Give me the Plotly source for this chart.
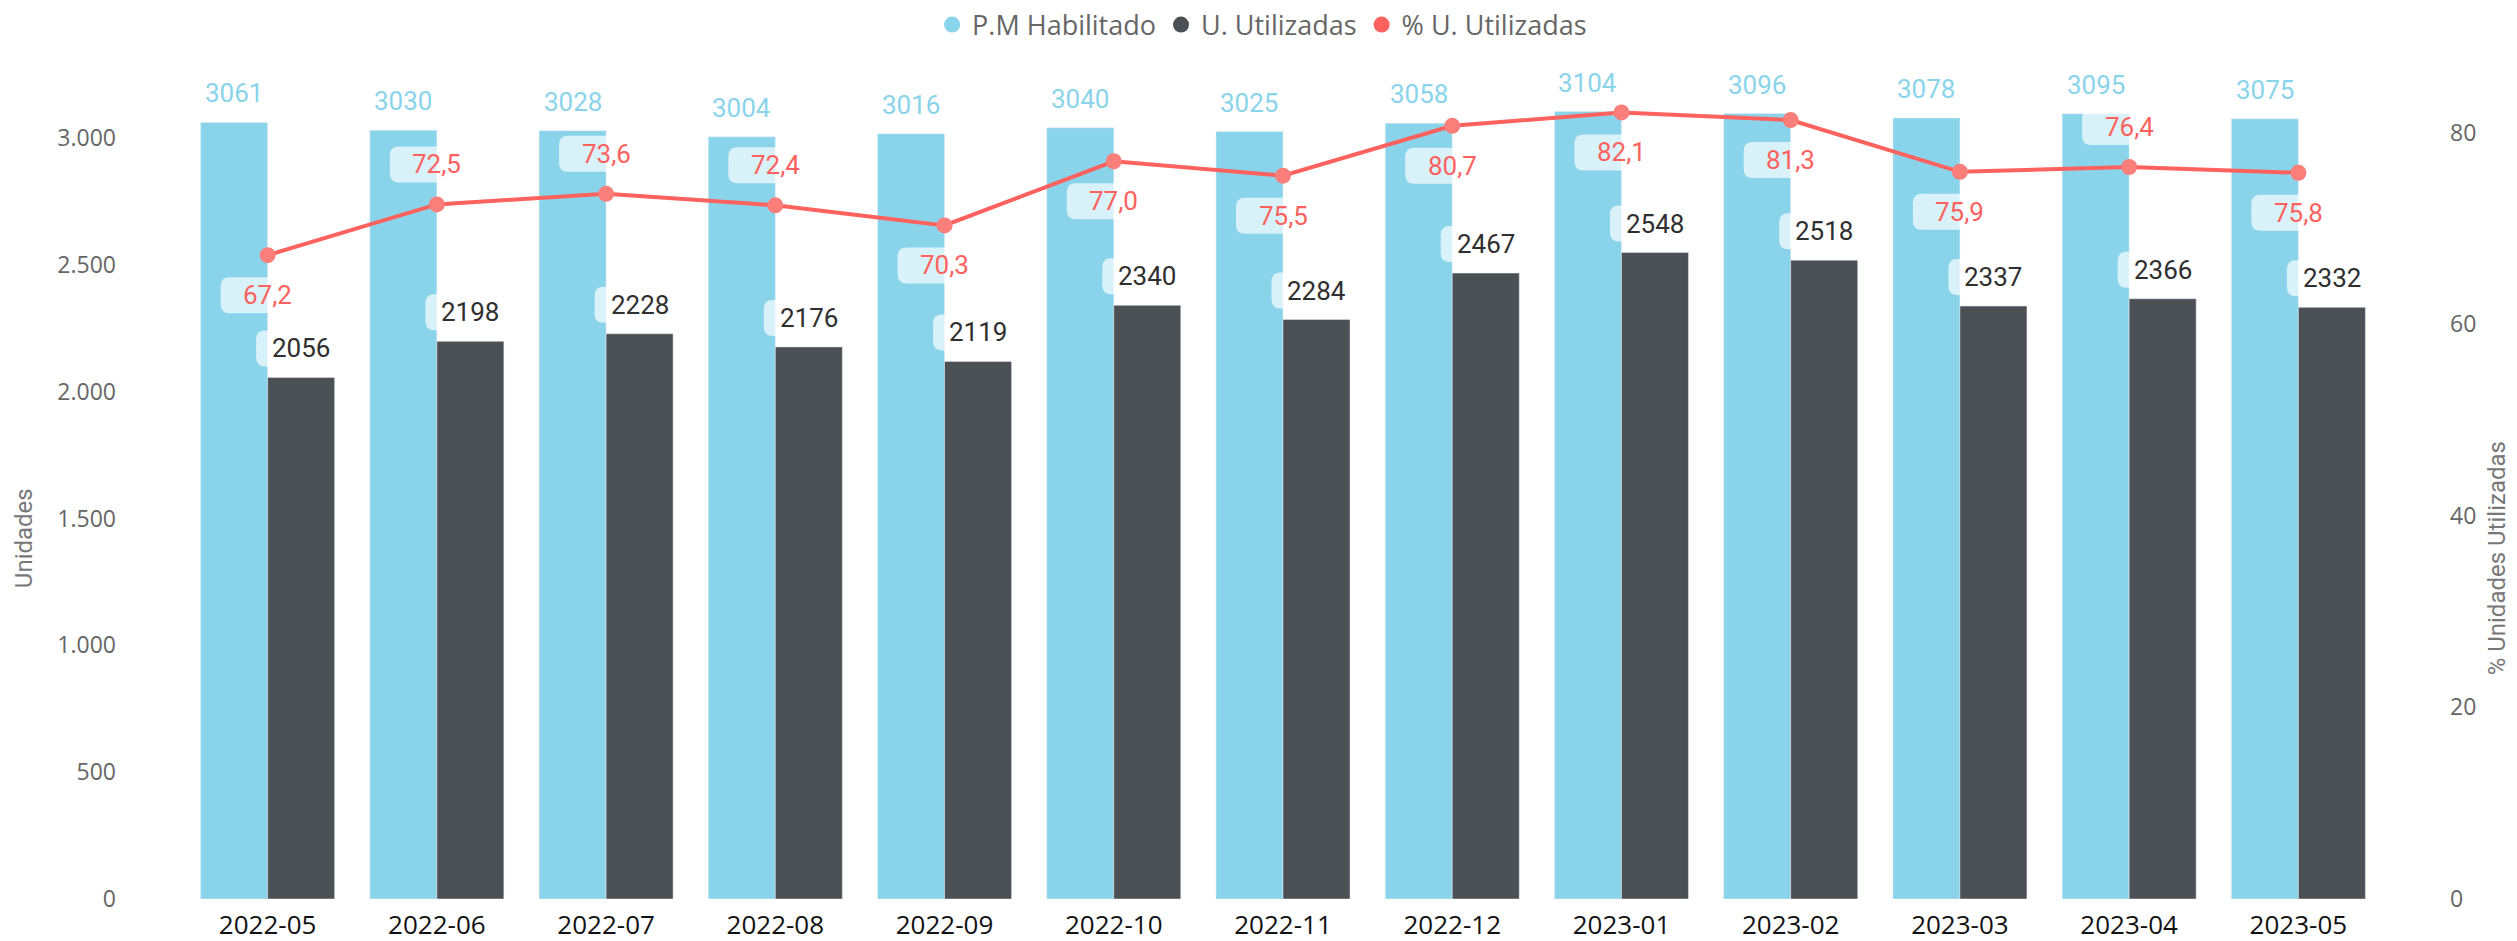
import plotly.graph_objects as go

categories = ["2022-05", "2022-06", "2022-07", "2022-08", "2022-09", "2022-10", "2022-11",
              "2022-12", "2023-01", "2023-02", "2023-03", "2023-04", "2023-05"]
pm_habilitado = [3061, 3030, 3028, 3004, 3016, 3040, 3025, 3058, 3104, 3096, 3078, 3095, 3075]
u_utilizadas = [2056, 2198, 2228, 2176, 2119, 2340, 2284, 2467, 2548, 2518, 2337, 2366, 2332]
pct_utilizadas = [67.2, 72.5, 73.6, 72.4, 70.3, 77.0, 75.5, 80.7, 82.1, 81.3, 75.9, 76.4, 75.8]
# label above (+1) or below (-1) the line point, as in the reference
pct_label_side = [-1, 1, 1, 1, -1, -1, -1, -1, -1, -1, -1, 1, -1]
left_ticks = [0, 500, 1000, 1500, 2000, 2500, 3000]
right_ticks = [0, 20, 40, 60, 80]

C_LIGHT = "#8AD4EB"
C_DARK = "#4A5053"
C_RED = "#FD625E"
C_MARK = "#FA7E7A"
LABEL_FONT = "Roboto, DejaVu Sans, sans-serif"
UI_FONT = "Open Sans, Noto Sans, sans-serif"
TITLE_FONT = "Roboto, sans-serif"

BARGAP = 0.208
HALF = (1 - BARGAP) / 4  # offset of each bar centre from category centre

fig = go.Figure()
fig.add_trace(go.Bar(x=categories, y=pm_habilitado, name="P.M Habilitado",
                     marker_color=C_LIGHT, showlegend=False, offsetgroup="a"))
fig.add_trace(go.Bar(x=categories, y=u_utilizadas, name="U. Utilizadas",
                     marker_color=C_DARK, showlegend=False, offsetgroup="b"))
fig.add_trace(go.Scatter(x=categories, y=pct_utilizadas, name="% U. Utilizadas", yaxis="y2",
                         mode="lines+markers", line=dict(color=C_RED, width=4),
                         marker=dict(color=C_MARK, size=16), showlegend=False))

# legend entries with round markers (Power BI style)
for nm, col in [("P.M Habilitado", C_LIGHT), ("U. Utilizadas", C_DARK), ("% U. Utilizadas", C_RED)]:
    fig.add_trace(go.Scatter(x=[None], y=[None], mode="markers", name=nm,
                             marker=dict(color=col, size=16, symbol="circle"), showlegend=True))


def rrect(x0, x1, y0, y1, r):
    return (f"M {x0+r},{y0} L {x1-r},{y0} Q {x1},{y0} {x1},{y0+r} L {x1},{y1-r} "
            f"Q {x1},{y1} {x1-r},{y1} L {x0+r},{y1} Q {x0},{y1} {x0},{y1-r} "
            f"L {x0},{y0+r} Q {x0},{y0} {x0+r},{y0} Z")


annotations = []
shapes = []
BOX_FILL = "rgba(255,255,255,0.68)"
for i, cat in enumerate(categories):
    # P.M Habilitado labels
    annotations.append(dict(x=i - HALF, y=pm_habilitado[i], xref="x", yref="y",
                            text=str(pm_habilitado[i]), showarrow=False, yshift=29,
                            font=dict(family=LABEL_FONT, size=26, color=C_LIGHT)))
    # U. Utilizadas labels with rounded box
    annotations.append(dict(x=i + HALF, y=u_utilizadas[i], xref="x", yref="y",
                            text=str(u_utilizadas[i]), showarrow=False, yshift=29,
                            font=dict(family=LABEL_FONT, size=26, color="#2F2F2F")))
    shapes.append(dict(type="path", xref="x", yref="y", xsizemode="pixel", ysizemode="pixel",
                       xanchor=i + HALF, yanchor=u_utilizadas[i],
                       path=rrect(-45, 45, 29 - 18, 29 + 18, 9),
                       fillcolor=BOX_FILL, line=dict(width=0), layer="above"))
    # % labels
    off = 40 * pct_label_side[i]
    annotations.append(dict(x=i, y=pct_utilizadas[i], xref="x", yref="y2",
                            text=f"{pct_utilizadas[i]:.1f}".replace(".", ","),
                            showarrow=False, yshift=off,
                            font=dict(family=LABEL_FONT, size=26, color=C_RED)))
    shapes.append(dict(type="path", xref="x", yref="y2", xsizemode="pixel", ysizemode="pixel",
                       xanchor=i, yanchor=pct_utilizadas[i],
                       path=rrect(-47, 47, off - 18, off + 18, 9),
                       fillcolor=BOX_FILL, line=dict(width=0), layer="above"))

# axis titles
annotations.append(dict(text="Unidades", xref="paper", yref="paper", x=-0.0723, y=0.430,
                        xanchor="center", yanchor="middle",
                        textangle=-90, showarrow=False,
                        font=dict(family=TITLE_FONT, size=24, color="#777777")))
annotations.append(dict(text="% Unidades Utilizadas", xref="paper", yref="paper", x=1.0518, y=0.406,
                        xanchor="center", yanchor="middle",
                        textangle=-90, showarrow=False,
                        font=dict(family=TITLE_FONT, size=24, color="#777777")))

fig.update_layout(
    width=2517, height=941,
    margin=dict(l=183, r=134, t=60, b=42, autoexpand=False),
    paper_bgcolor="white", plot_bgcolor="white",
    barmode="group", bargap=BARGAP, bargroupgap=0,
    separators=",.",
    showlegend=True,
    legend=dict(orientation="h", x=0.4905, xanchor="center", y=1.0417, yanchor="middle",
                font=dict(family=UI_FONT, size=27, color="#666666"), itemwidth=30,
                bgcolor="rgba(0,0,0,0)"),
    xaxis=dict(type="category", range=[-0.5, len(categories) - 0.5], showgrid=False,
               zeroline=False, showline=False,
               tickfont=dict(family=UI_FONT, size=26, color="#111111"),
               ticklabelstandoff=8),
    yaxis=dict(range=[0, 3307], tickvals=left_ticks, tickformat=",d", showgrid=False,
               zeroline=False, showline=False,
               tickfont=dict(family=UI_FONT, size=23, color="#666666"),
               ticklabelstandoff=66),
    yaxis2=dict(range=[0, 87.57], tickvals=right_ticks, overlaying="y", side="right",
                showgrid=False, zeroline=False, showline=False,
                tickfont=dict(family=UI_FONT, size=23, color="#666666"),
                ticklabelstandoff=66),
    annotations=annotations,
    shapes=shapes,
)

fig.write_html("out.html", config={"displayModeBar": False},
               post_script="document.body.style.margin='0';")
